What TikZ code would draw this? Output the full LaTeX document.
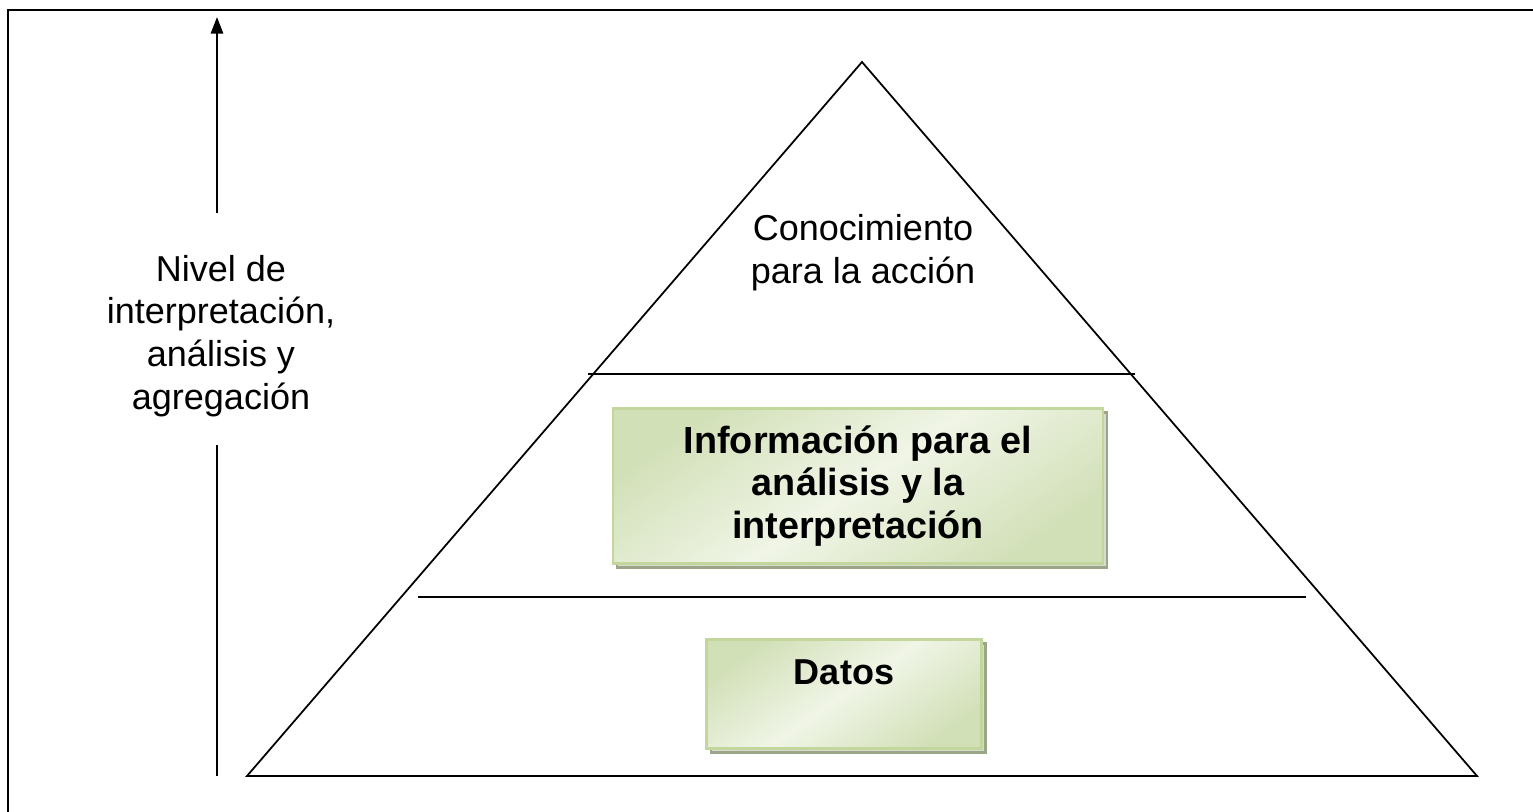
\documentclass[tikz,border=0pt]{standalone}
\usepackage{fontspec}
\setmainfont{Liberation Sans}
\usetikzlibrary{arrows.meta,positioning,shadows}

\definecolor{boxedge}{RGB}{195,214,155}
\definecolor{boxshadow}{RGB}{155,165,135}
\definecolor{boxfill}{RGB}{210,224,184}
\definecolor{boxlight}{RGB}{240,245,230}

\tikzset{
    txt/.style={align=center, font=\fontsize{20.5}{24.4}\selectfont},
    boldtxt/.style={align=center, font=\fontsize{21.5}{24.4}\selectfont\bfseries},
    greenbox/.style={draw=boxedge, line width=1.2pt,
        left color=boxfill, right color=boxfill, middle color=boxlight, shading angle=35,
        general shadow={shadow xshift=2.3pt, shadow yshift=-2.3pt, draw=boxshadow, line width=1.2pt, fill=boxshadow!40}},
    level/.style={line width=1pt}
}

\begin{document}
\begin{tikzpicture}[x=0.02cm, y=0.02cm]

    % the frame
    \useasboundingbox (0,0) rectangle (1533,811);
    \path[clip] (0,0) rectangle (1533,811);
    \draw[line width=1.2pt] (8,-20) -- (8,801) -- (1560,801);

    % the pyramid
    \coordinate (apex) at (862,749);
    \coordinate (baseL) at (247,35);
    \coordinate (baseR) at (1477,35);
    \draw[level, line join=miter] (baseL) -- (apex) -- (baseR) -- cycle;

    % levels
    \draw[level] (588,437) -- (1135,437);
    \draw[level] (418,214) -- (1306,214);

    % top
    \node[txt] (conoc) at (863,558) {Conocimiento\\para la acción};

    % middle
    \node[greenbox, minimum width=9.8cm, minimum height=3.1cm] (infobox) at (858,325) {};
    \node[boldtxt] (info) at (infobox.center) {Información para el\\análisis y la\\interpretación};

    % bottom
    \node[greenbox, minimum width=5.5cm, minimum height=2.18cm] (datosbox) at (844,117) {};
    \node[boldtxt, font=\fontsize{20.5}{24.4}\selectfont\bfseries, below=0.3cm of datosbox.north] (datos) {Datos};

    % the axis
    \node[txt] (nivel) at (221,475) {Nivel de\\interpretación,\\análisis y\\agregación};
    \coordinate (arrtop) at (217,794);
    \coordinate (arrbot) at (217,35);
    \draw[line width=1.2pt, -{Triangle[width=7pt, length=9.5pt]}] ([yshift=0.71cm]nivel.north -| arrtop) -- (arrtop);
    \draw[line width=1.2pt] (arrbot) -- ([yshift=-0.44cm]nivel.south -| arrbot);

\end{tikzpicture}
\end{document}
